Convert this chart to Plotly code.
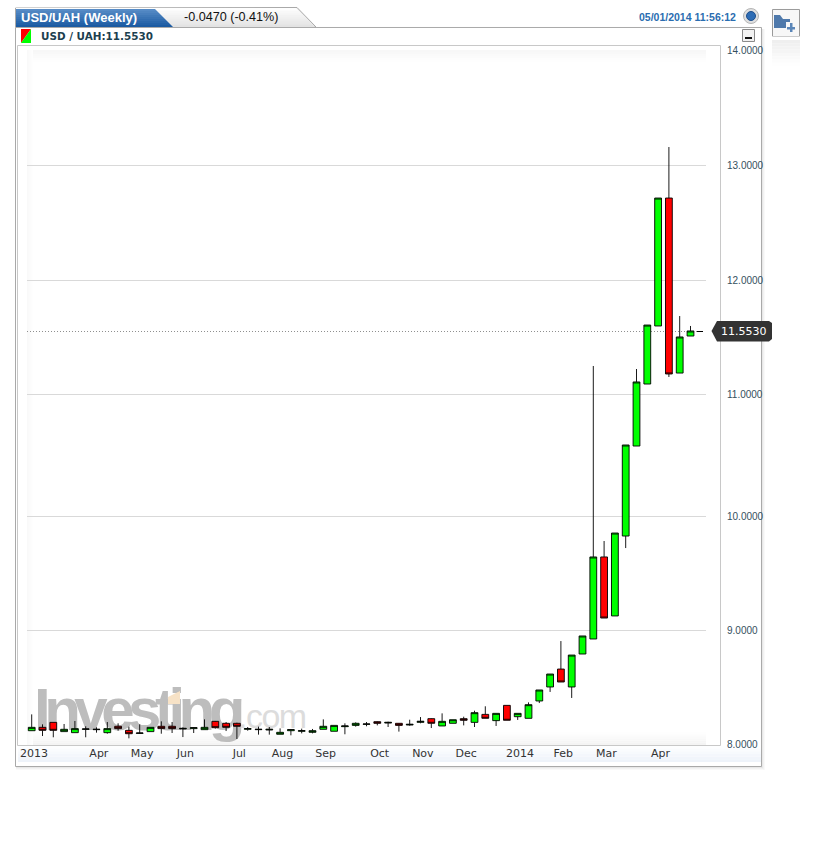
import plotly.graph_objects as go

# ---------- data ----------
week_index = list(range(62))
opens = [8.115,8.144,8.187,8.107,8.098,8.127,8.124,8.098,8.153,8.118,8.092,8.107,8.153,8.153,8.130,8.133,8.124,8.196,8.179,8.179,
         8.127,8.124,8.121,8.084,8.115,8.110,8.101,8.127,8.110,8.150,8.161,8.170,8.193,8.181,8.179,8.164,8.187,8.219,8.156,8.179,
         8.219,8.187,8.256,8.202,8.334,8.236,8.222,8.372,8.493,8.648,8.493,8.778,8.908,9.617,9.107,9.798,10.576,11.112,11.614,12.720,11.207,11.527]
highs = [8.256,8.170,8.187,8.173,8.199,8.153,8.144,8.190,8.179,8.150,8.170,8.144,8.196,8.190,8.144,8.144,8.213,8.199,8.190,8.184,
         8.147,8.150,8.147,8.135,8.127,8.133,8.130,8.213,8.161,8.179,8.187,8.190,8.196,8.193,8.181,8.210,8.233,8.222,8.265,8.210,
         8.236,8.288,8.326,8.265,8.334,8.265,8.360,8.467,8.605,8.890,8.769,8.934,11.268,9.755,9.824,10.585,11.242,11.622,12.720,13.161,11.700,11.614]
lows = [8.115,8.069,8.058,8.107,8.098,8.058,8.098,8.089,8.115,8.049,8.089,8.107,8.089,8.095,8.060,8.095,8.124,8.133,8.112,8.043,
        8.115,8.081,8.081,8.084,8.075,8.092,8.092,8.127,8.110,8.084,8.150,8.153,8.161,8.147,8.107,8.158,8.179,8.138,8.156,8.179,
        8.161,8.147,8.222,8.156,8.205,8.208,8.222,8.354,8.450,8.536,8.398,8.778,8.908,9.089,9.107,9.694,10.576,11.112,11.614,11.173,11.207,11.527]
closes = [8.144,8.118,8.118,8.127,8.133,8.130,8.127,8.133,8.133,8.089,8.095,8.144,8.133,8.133,8.135,8.141,8.144,8.141,8.144,8.153,
          8.133,8.127,8.127,8.101,8.124,8.115,8.115,8.153,8.161,8.156,8.179,8.173,8.179,8.187,8.161,8.170,8.196,8.179,8.196,8.210,
          8.205,8.271,8.222,8.265,8.205,8.265,8.340,8.467,8.605,8.536,8.769,8.934,9.617,9.089,9.824,10.585,11.130,11.622,12.720,11.199,11.519,11.571]
last_price = 11.571
last_label = "11.5530"

month_labels = ["2013","Apr","May","Jun","Jul","Aug","Sep","Oct","Nov","Dec","2014","Feb","Mar","Apr"]
month_weeks = [0,6,10,14,19,23,27,32,36,40,45,49,53,58]
price_labels = ["8.0000","9.0000","10.0000","11.0000","12.0000","13.0000","14.0000"]
price_ticks = [8.0,8.986,9.971,11.026,12.011,13.006,14.0]

# ---------- layout helpers (pixel <-> paper) ----------
W, H = 826, 859
L, R, T, B = 17, 720, 46, 745
def px(x): return (x - L) / (R - L)
def py(y): return (B - y) / (B - T)
PER_WEEK = 10.8
X0 = 31.7
PER_UNIT = 115.67
def xv(x): return (x - X0) / PER_WEEK
def yv(y): return 8 + (744 - y) / PER_UNIT

shapes = []
def poly(pts, fill, line=None, lw=1, layer="below"):
    d = "M " + " L ".join(f"{px(a):.5f} {py(b):.5f}" for a, b in pts) + " Z"
    shapes.append(dict(type="path", xref="paper", yref="paper", path=d, fillcolor=fill,
                       line=dict(color=line or "rgba(0,0,0,0)", width=lw if line else 0), layer=layer))
def rect(x0, y0, x1, y1, fill="rgba(0,0,0,0)", line=None, lw=1, layer="below"):
    poly([(x0,y0),(x1,y0),(x1,y1),(x0,y1)], fill, line, lw, layer)
def seg(x0, y0, x1, y1, color, lw=1, dash="solid", layer="below"):
    shapes.append(dict(type="line", xref="paper", yref="paper", x0=px(x0), y0=py(y0), x1=px(x1), y1=py(y1),
                       line=dict(color=color, width=lw, dash=dash), layer=layer))
def mix(c0, c1, t):
    return "rgb(" + ",".join(str(round(a + (b - a) * t)) for a, b in zip(c0, c1)) + ")"
def grad(x0, x1, y0, y1, c0, c1, n, slant0=0.0, slant1=0.0, layer="below"):
    for i in range(n):
        a = y0 + (y1 - y0) * i / n
        b = y0 + (y1 - y0) * (i + 1) / n
        ta, tb = i / n, (i + 1) / n
        poly([(x0,a),(x1 + slant0 + (slant1 - slant0) * ta,a),(x1 + slant0 + (slant1 - slant0) * tb,b),(x0,b)],
             mix(c0, c1, (i + .5) / n), layer=layer)

# outer shadow
for k, c in enumerate(["#d4d4d4", "#e6e6e6", "#f3f3f3"]):
    seg(762 + k, 29, 762 + k, 768 + k, c)
    seg(16, 767 + k, 762 + k, 767 + k, c)
# side panel shadow at folder button
grad(772, 800, 40, 66, (238,238,238), (255,255,255), 8)

# frame
rect(15.5, 27.5, 761.5, 766.5, "#ffffff", "#a9a9a9")
# date strip
grad(18, 761, 746, 762, (255,255,255), (236,242,250), 6)
# plot area fades
grad(27, 706, 50, 62, (246,246,246), (255,255,255), 6)
grad(27, 706, 732, 745, (255,255,255), (243,243,243), 6)
for i in range(6):
    rect(27 + i, 50, 28 + i, 745, mix((248,248,248),(255,255,255),(i + .5)/6))
# inner box
seg(17.5, 45.5, 720.5, 45.5, "#c8c8c8")
seg(17.5, 45.5, 17.5, 745.5, "#c8c8c8")
seg(720.5, 45.5, 720.5, 745.5, "#c8c8c8")
seg(17.5, 745.5, 720.5, 745.5, "#c8c8c8")

# grid lines
for t in price_ticks[1:-1]:
    y = 744 - (t - 8) * PER_UNIT
    seg(27, round(y) + .5, 706, round(y) + .5, "#d9d9d9")

# last price dotted line
ylast = 744 - (last_price - 8) * PER_UNIT
seg(27, round(ylast) + .5, 697, round(ylast) + .5, "#8f8f8f", 1, "1px,2px")
seg(697, round(ylast) + .5, 703, round(ylast) + .5, "#000000", 1, layer="above")

# tabs
poly([(15.5,27),(15.5,8),(297,7.5),(316,27)], "#eeeeee", "#a9a9a9")
grad(16, 296, 8, 27, (255,255,255), (226,226,226), 10, 0, 19)
grad(16, 155, 9, 27, (90,142,200), (24,88,160), 9, 0, 18)

# legend icon
poly([(21,29),(31,29),(21,43)], "#ff0000")
poly([(31,29),(31,43),(21,43)], "#00ff00")

# minimise button
rect(742.5, 29.5, 754.5, 41.5, "#f2f2f2", "#8a8a8a")
rect(745, 37, 752, 39, "#111111")

# live ball
shapes.append(dict(type="circle", xref="paper", yref="paper", x0=px(743.5), x1=px(758.5), y0=py(8.5), y1=py(23.5),
                   fillcolor="#e0e0e0", line=dict(color="#b5b5b5", width=1), layer="below"))
shapes.append(dict(type="circle", xref="paper", yref="paper", x0=px(746.5), x1=px(755.5), y0=py(11.5), y1=py(20.5),
                   fillcolor="#2f6db5", line=dict(color="#1e4f8c", width=1), layer="below"))

# folder button
rect(772.5, 9.5, 799.5, 36.5, "#f7f7f7", "#9a9a9a")
seg(772, 37, 800, 37, "#ffffff", 1)
poly([(774,15),(780,15),(783,19),(790,19),(790,28),(774,28)], "#4f79ab")
rect(786,22,796,33,"#f7f7f7")
rect(787,27,795,29.5,"#5b86b8")
rect(790,23,792.5,32,"#5b86b8")

# price flag
poly([(711.5,331),(717,321),(769,321),(772,323),(772,339),(769,341.5),(717,341.5)], "#333333")

# watermark accent on the i
poly([(168,697),(180,691),(180,704),(168,704)], "#f7e2c6", layer="above")

FONT = "Liberation Sans"
DV = "DejaVu Sans"

fig = go.Figure()
# watermark sits under the candles on the lower y axis
fig.add_trace(go.Scatter(x=[xv(34)], y=[yv(715)], mode="text", text=["Investing"], textposition="middle right",
                         textfont=dict(family=FONT, size=60, color="#bdbdbd", weight="bold"),
                         hoverinfo="skip", showlegend=False, yaxis="y", xaxis="x", cliponaxis=False))
fig.add_trace(go.Scatter(x=[xv(238)], y=[yv(719)], mode="text", text=[".com"], textposition="middle right",
                         textfont=dict(family=FONT, size=34, color="#dcdcdc"),
                         hoverinfo="skip", showlegend=False, yaxis="y", xaxis="x", cliponaxis=False))
fig.add_trace(go.Candlestick(x=week_index, open=opens, high=highs, low=lows, close=closes, yaxis="y2", xaxis="x",
                             whiskerwidth=0, showlegend=False,
                             increasing=dict(fillcolor="#00ff00", line=dict(color="#000000", width=0.9)),
                             decreasing=dict(fillcolor="#ff0000", line=dict(color="#000000", width=0.9))))

yrange = [yv(B), yv(T)]
anns = []
def note(x, y, text, size, color, family=FONT, bold=False, anchor="left"):
    anns.append(dict(xref="paper", yref="paper", x=px(x), y=py(y), text=f"<b>{text}</b>" if bold else text,
                     showarrow=False, xanchor=anchor, yanchor="middle", borderpad=0, borderwidth=0,
                     font=dict(family=family, size=size, color=color)))
note(21, 18, "USD/UAH (Weekly)", 13, "#ffffff", bold=True)
note(184, 17.5, "-0.0470 (-0.41%)", 12.6, "#111111")
note(41, 36, "USD / UAH:11.5530", 10.4, "#1d3f4f", DV, True)
note(639, 17.5, "05/01/2014 11:56:12", 10.5, "#2a6db0", FONT, True)
note(721, 331.5, last_label, 11, "#ffffff", DV)

fig.update_layout(
    width=W, height=H, autosize=False, paper_bgcolor="#ffffff", plot_bgcolor="rgba(0,0,0,0)",
    margin=dict(l=L, r=W - R, t=T, b=H - B, pad=0), showlegend=False,
    xaxis=dict(range=[xv(L), xv(R)], tickmode="array", tickvals=[m + 0.22 for m in month_weeks], ticktext=month_labels,
               showgrid=False, zeroline=False, showline=False, ticks="", rangeslider=dict(visible=False),
               tickfont=dict(family=DV, size=11, color="#333333"), tickangle=0),
    yaxis=dict(range=yrange, visible=False, showgrid=False, zeroline=False, fixedrange=True),
    yaxis2=dict(range=yrange, overlaying="y", side="right", tickmode="array",
                tickvals=[t - 0.003 for t in price_ticks], ticktext=price_labels,
                showgrid=False, zeroline=False, showline=False, ticks="", ticklabelstandoff=6,
                tickfont=dict(family=FONT, size=10, color="#35505e")),
    shapes=shapes, annotations=anns, boxgap=0.1,
)
post = """
document.body.style.margin='0';document.documentElement.style.overflow='hidden';
document.querySelectorAll('.textpoint text').forEach(function(t){
  if(t.textContent==='Investing'){t.style.letterSpacing='-6.5px';}
  if(t.textContent==='.com'){t.style.letterSpacing='-1.5px';}
});
"""
fig.write_html("out.html", post_script=post, config=dict(displayModeBar=False))
